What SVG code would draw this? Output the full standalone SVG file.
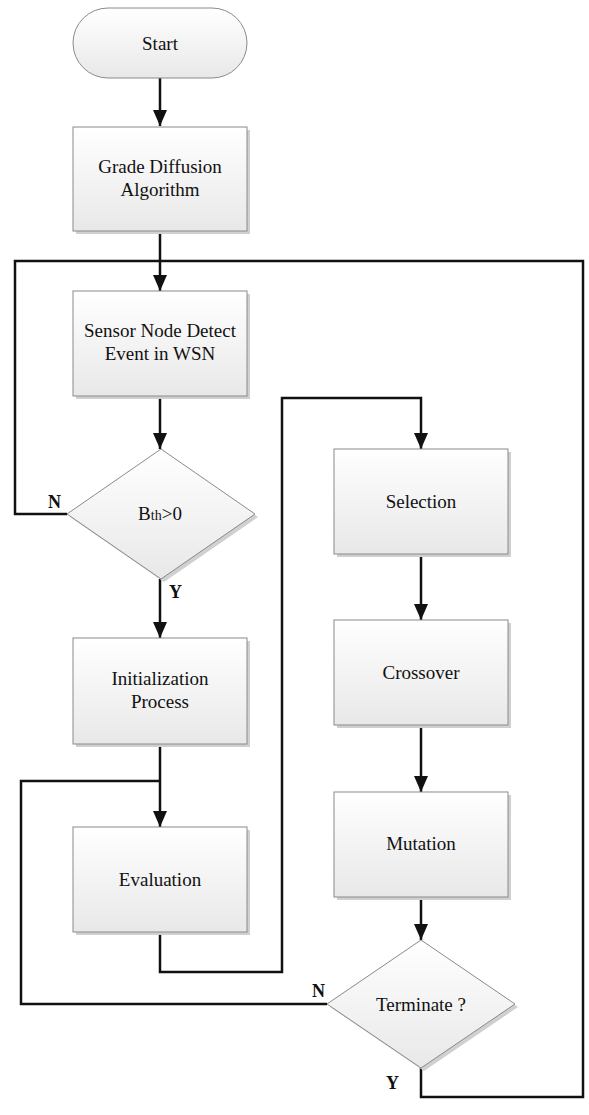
<svg xmlns="http://www.w3.org/2000/svg" width="589" height="1115" viewBox="0 0 589 1115">
<defs>
<linearGradient id="g" x1="0" y1="0" x2="0" y2="1">
<stop offset="0" stop-color="#ffffff"/>
<stop offset="1" stop-color="#e8e8e8"/>
</linearGradient>
<marker id="ah" markerWidth="16" markerHeight="14" refX="16" refY="7" orient="auto" markerUnits="userSpaceOnUse" viewBox="0 0 16 14">
<path d="M0,0 L16,7 L0,14 Z" fill="#111"/>
</marker>
</defs>
<style>
.box{fill:url(#g);stroke:#8a8a8a;stroke-width:1}
.sh{fill:#d0d0d0}
.t{font-family:"Liberation Serif","Times New Roman","DejaVu Serif",serif;font-size:19px;fill:#111;text-anchor:middle}
.lb{font-family:"Liberation Serif","Times New Roman","DejaVu Serif",serif;font-size:18px;font-weight:bold;fill:#111}
.c{fill:none;stroke:#111;stroke-width:2.5}
</style>
<rect width="589" height="1115" fill="#fff"/>
<g id="connectors">
<path class="c" d="M160,78 V126" marker-end="url(#ah)"/>
<path class="c" d="M160,231 V291" marker-end="url(#ah)"/>
<path class="c" d="M160,396 V449" marker-end="url(#ah)"/>
<path class="c" d="M160,579 V638" marker-end="url(#ah)"/>
<path class="c" d="M160,744 V827" marker-end="url(#ah)"/>
<path class="c" d="M160,932 V972 H282 V398 H421 V449" marker-end="url(#ah)"/>
<path class="c" d="M421,554 V620" marker-end="url(#ah)"/>
<path class="c" d="M421,725 V792" marker-end="url(#ah)"/>
<path class="c" d="M421,897 V940" marker-end="url(#ah)"/>
<path class="c" d="M67,514 H15 V261 H583 V1097 H421 V1068"/>
<path class="c" d="M327,1004 H21 V781 H160"/>
</g>
<g id="start">
<rect x="73" y="8" width="174" height="70" rx="35" ry="35" fill="url(#g)" stroke="#8a8a8a" stroke-width="1"/>
<text class="t" x="160" y="50">Start</text>
</g>
<g id="grade">
<rect class="sh" x="76" y="130" width="174" height="104"/>
<rect class="box" x="73" y="127" width="174" height="104"/>
<text class="t" x="160" y="173">Grade Diffusion</text>
<text class="t" x="160" y="196">Algorithm</text>
</g>
<g id="sensor">
<rect class="sh" x="76" y="294" width="174" height="105"/>
<rect class="box" x="73" y="291" width="174" height="105"/>
<text class="t" x="160" y="337">Sensor Node Detect</text>
<text class="t" x="160" y="360">Event in WSN</text>
</g>
<g id="bth">
<path class="sh" d="M164,452 L258,517 L164,582 L70,517 Z"/>
<path class="box" d="M161,449 L255,514 L161,579 L67,514 Z"/>
<text class="t" x="160" y="520">B<tspan font-size="14">th</tspan>&gt;0</text>
<text class="lb" x="48" y="508">N</text>
<text class="lb" x="169" y="598">Y</text>
</g>
<g id="init">
<rect class="sh" x="76" y="641" width="174" height="106"/>
<rect class="box" x="73" y="638" width="174" height="106"/>
<text class="t" x="160" y="685">Initialization</text>
<text class="t" x="160" y="708">Process</text>
</g>
<g id="evaluation">
<rect class="sh" x="76" y="830" width="174" height="105"/>
<rect class="box" x="73" y="827" width="174" height="105"/>
<text class="t" x="160" y="886">Evaluation</text>
</g>
<g id="selection">
<rect class="sh" x="337" y="452" width="174" height="105"/>
<rect class="box" x="334" y="449" width="174" height="105"/>
<text class="t" x="421" y="508">Selection</text>
</g>
<g id="crossover">
<rect class="sh" x="337" y="623" width="174" height="105"/>
<rect class="box" x="334" y="620" width="174" height="105"/>
<text class="t" x="421" y="679">Crossover</text>
</g>
<g id="mutation">
<rect class="sh" x="337" y="795" width="174" height="105"/>
<rect class="box" x="334" y="792" width="174" height="105"/>
<text class="t" x="421" y="850">Mutation</text>
</g>
<g id="terminate">
<path class="sh" d="M424,943 L518,1007 L424,1071 L330,1007 Z"/>
<path class="box" d="M421,940 L515,1004 L421,1068 L327,1004 Z"/>
<text class="t" x="421" y="1011">Terminate ?</text>
<text class="lb" x="312" y="997">N</text>
<text class="lb" x="386" y="1089">Y</text>
</g>
</svg>
